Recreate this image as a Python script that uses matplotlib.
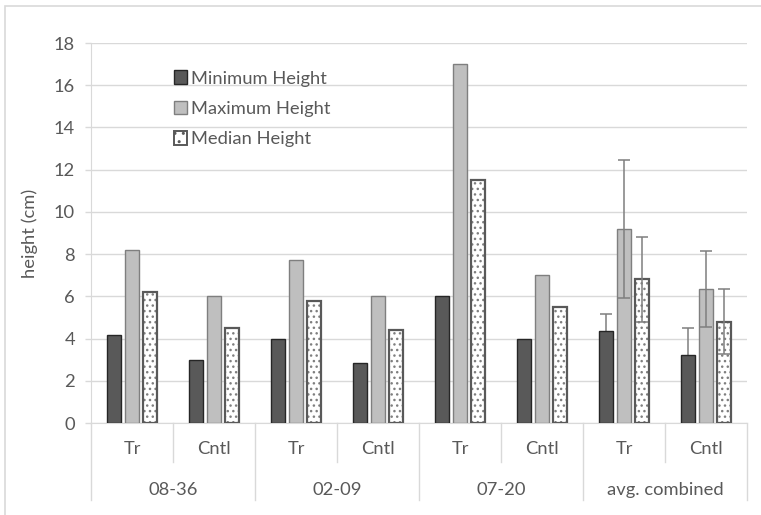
import numpy as np
import matplotlib
matplotlib.use('Agg')
import matplotlib.pyplot as plt
from matplotlib.patches import Rectangle
from matplotlib.lines import Line2D

plt.rcParams['font.family'] = ['Lato', 'DejaVu Sans']

# data
groups = ['08-36', '02-09', '07-20', 'avg. combined']
treatments = ['Tr', 'Cntl']
min_height = [4.15, 3.0, 4.0, 2.85, 6.0, 4.0, 4.35, 3.22]
max_height = [8.2, 6.0, 7.7, 6.0, 17.0, 7.0, 9.2, 6.35]
median_height = [6.2, 4.5, 5.8, 4.4, 11.5, 5.5, 6.8, 4.8]
# error bars only on the combined averages
min_err = [0, 0, 0, 0, 0, 0, 0.83, 1.28]
max_err = [0, 0, 0, 0, 0, 0, 3.27, 1.8]
median_err = [0, 0, 0, 0, 0, 0, 2.0, 1.55]

TXT = '#595959'
GRID = '#d9d9d9'
FS = 13.2

fig = plt.figure(figsize=(7.61, 5.15), dpi=100)
ax = fig.add_axes([91 / 761, 1 - 423 / 515, 656 / 761, 380 / 515])

# light border round the chart area
fig.patches.append(Rectangle((5 / 761, -0.1), 1.2, 1.1 - 6 / 515, transform=fig.transFigure,
                             fill=False, edgecolor=GRID, linewidth=1.2))

x = np.arange(len(min_height))
w = 0.172
step = 0.22

def errs(vals):
    return [v if v > 0 else np.nan for v in vals]

ax.bar(x - step, min_height, w, color='#595959', edgecolor='#262626', linewidth=1.0, zorder=3)
ax.bar(x, max_height, w, color='#bfbfbf', edgecolor='#7f7f7f', linewidth=1.0, zorder=3)
ax.bar(x + step, median_height, w, color='white', edgecolor='#7f7f7f', linewidth=0,
       hatch='...', zorder=3)
ax.bar(x + step, median_height, w, fill=False, edgecolor='#595959', linewidth=1.6, zorder=3)

ekw = dict(fmt='none', ecolor='#7f7f7f', elinewidth=1.1, capsize=4, capthick=1.1)
# min bars: lower half sits behind the dark bar
ax.errorbar(x - step, min_height, yerr=errs(min_err), zorder=2.5, **ekw)
ax.errorbar(x, max_height, yerr=errs(max_err), zorder=4, **ekw)
ax.errorbar(x + step, median_height, yerr=errs(median_err), zorder=4, **ekw)

ax.set_xlim(-0.5, len(x) - 0.5)
ax.set_ylim(0, 18)
ax.set_yticks(range(0, 19, 2))
ax.yaxis.grid(True, color=GRID, linewidth=1.0, zorder=0)
ax.set_axisbelow(True)
for s in ['top', 'right']:
    ax.spines[s].set_visible(False)
ax.spines['left'].set_color(GRID)
ax.spines['bottom'].set_color(GRID)
ax.tick_params(axis='y', colors=TXT, labelsize=FS, length=4.5, width=1.0, pad=7)
ax.tick_params(axis='y', color=GRID)
ax.set_xticks([])
ax.set_ylabel('height (cm)', color=TXT, fontsize=FS, labelpad=11)

# two-level category axis
tr = ax.get_xaxis_transform()
for i in range(len(x)):
    ax.text(i, -0.068, treatments[i % 2], transform=tr, ha='center', va='center',
            color=TXT, fontsize=FS)
for g, name in enumerate(groups):
    ax.text(2 * g + 0.5, -0.176, name, transform=tr, ha='center', va='center',
            color=TXT, fontsize=FS)
for b in [0.5, 2.5, 4.5, 6.5]:
    ax.add_line(Line2D([b, b], [0, -0.103], transform=tr, color=GRID, lw=1.0, clip_on=False))
for b in [-0.5, 1.5, 3.5, 5.5, 7.5]:
    ax.add_line(Line2D([b, b], [0, -0.203], transform=tr, color=GRID, lw=1.0, clip_on=False))

# legend (median entry uses a dotted patch)
h_min = Rectangle((0, 0), 1, 1, facecolor='#595959', edgecolor='#262626', lw=1.0)
h_max = Rectangle((0, 0), 1, 1, facecolor='#bfbfbf', edgecolor='#7f7f7f', lw=1.0)
h_med = Rectangle((0, 0), 1, 1, facecolor='white', edgecolor='#595959', lw=1.4, hatch='..')
leg = ax.legend([h_min, h_max, h_med], ['Minimum Height', 'Maximum Height', 'Median Height'],
                loc='upper left', bbox_to_anchor=(0.112, 0.952), frameon=False,
                fontsize=FS, handlelength=0.75, handleheight=0.75, handletextpad=0.2,
                labelspacing=0.78, borderpad=0)
for t in leg.get_texts():
    t.set_color(TXT)

fig.savefig('out.png', dpi=100)
